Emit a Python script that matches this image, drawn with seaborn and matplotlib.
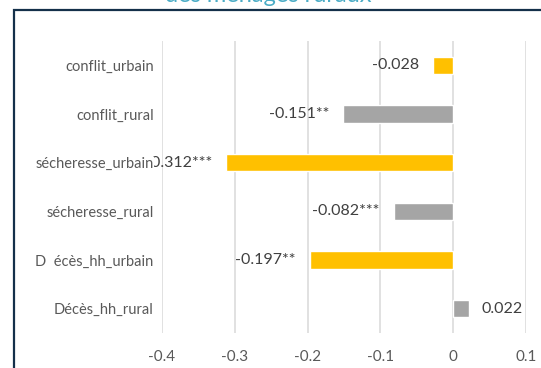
import matplotlib
matplotlib.use("Agg")
import matplotlib.pyplot as plt
from matplotlib.patches import Rectangle
import seaborn as sns
import pandas as pd

# Coefficients by shock and area
categories = ["conflit_urbain", "conflit_rural", "sécheresse_urbain",
              "sécheresse_rural", "D  écès_hh_urbain", "Décès_hh_rural"]
values = [-0.028, -0.151, -0.312, -0.082, -0.197, 0.022]
stars = ["", "**", "***", "***", "**", ""]
area = ["urbain", "rural", "urbain", "rural", "urbain", "rural"]
x_ticks = [-0.4, -0.3, -0.2, -0.1, 0.0, 0.1]
x_tick_labels = ["-0.4", "-0.3", "-0.2", "-0.1", "0", "0.1"]
title = "des ménages ruraux"

df = pd.DataFrame({"categorie": categories, "coef": values, "zone": area})

sns.set_theme(style="white")
plt.rcParams["font.family"] = ["Lato", "DejaVu Sans"]
text_color = "#595959"

fig = plt.figure(figsize=(5.41, 3.68), dpi=100)
ax = fig.add_axes([162 / 541, 35 / 368, 364 / 541, 292 / 368])

sns.barplot(data=df, x="coef", y="categorie", hue="zone", order=categories,
            palette={"urbain": "#FFC000", "rural": "#A5A5A5"},
            dodge=False, width=0.35, orient="h", legend=False, ax=ax,
            saturation=1, zorder=2)

ax.set_xlim(-0.4, 0.1)
ax.set_ylim(len(categories) - 0.5, -0.5)
ax.set_xticks(x_ticks)
ax.set_xticklabels(x_tick_labels)
ax.set_xlabel("")
ax.set_ylabel("")
ax.grid(axis="x", color="#D9D9D9", linewidth=1.1, zorder=0)
ax.grid(axis="y", visible=False)
for s in ax.spines.values():
    s.set_visible(False)
ax.tick_params(axis="x", length=0, pad=12, labelsize=11, labelcolor=text_color)
ax.tick_params(axis="y", length=0, pad=6, labelsize=10.5, labelcolor=text_color)
ax.yaxis.set_zorder(5)

# Value labels at the end of each bar
for i, (v, s) in enumerate(zip(values, stars)):
    txt = f"{v:.3f}{s}"
    off = 9 if v >= 0 else -10
    ax.annotate(txt, xy=(v, i), xytext=(off, 0), textcoords="offset points",
                ha="left" if v >= 0 else "right", va="center",
                fontsize=11.5, color="#404040", zorder=3)

# Chart frame and title
fig.patches.append(Rectangle((14 / 541, -0.1), 1.2, 1.1 - 10.5 / 368,
                             transform=fig.transFigure, fill=False,
                             edgecolor="#14304A", linewidth=1.6))
fig.text(0.495, 1 - 1.5 / 368, title, ha="center", va="baseline",
         fontsize=17, color="#4BACC6")

# Category labels sit on a white box above the value labels
fig.canvas.draw()
for lab in ax.get_yticklabels():
    lab.set_bbox(dict(facecolor="white", edgecolor="none", pad=0.3))

fig.savefig("out.png", dpi=100)
